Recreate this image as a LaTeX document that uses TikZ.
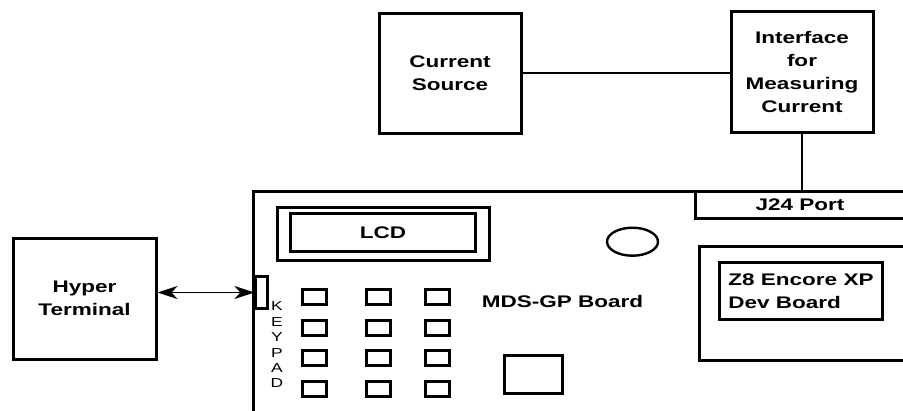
\documentclass[tikz,border=0pt]{standalone}
\usepackage{fontspec}
\setmainfont{Liberation Sans}[FakeStretch=1.34]
\usetikzlibrary{positioning,shapes.geometric,arrows.meta}
\tikzset{
  box/.style={draw,line width=3pt,inner sep=0pt,align=center,
    font=\fontsize{16.8}{23}\selectfont\bfseries},
  key/.style={draw,line width=3pt,inner sep=0pt,minimum width=24,minimum height=15},
  wire/.style={line width=1.8pt},
  lbl/.style={font=\fontsize{16.8}{23}\selectfont\bfseries,align=center},
  bothtips/.style={{Stealth[length=20pt,width=13pt,inset=6pt]}-{Stealth[length=20pt,width=13pt,inset=6pt]}}
}

\begin{document}
\begin{tikzpicture}[x=1pt,y=-1pt]
\useasboundingbox (0,0) rectangle (903,410);
\clip (0,0) rectangle (903,410);
% outside units
\node[box,minimum width=142,minimum height=120] (src) at (450,73) {Current\\Source};
\node[box,minimum width=142,minimum height=121] (iface) at (802,71.5) {Interface\\for\\Measuring\\Current};
\node[box,minimum width=143,minimum height=121] (hyper) at (84.5,298.5) {Hyper\\Terminal};
% the board
\node[box,minimum width=662,minimum height=234] (board) at (584,308) {};
\node[box,minimum width=212,minimum height=53] (lcdo) at (383,233.5) {};
\node[box,minimum width=185,minimum height=38] (lcd) at (383,232.5) {LCD};
\node[box,minimum width=210,minimum height=27] (j24) at (800,205) {J24 Port};
\node[box,minimum width=206,minimum height=114] (z8o) at (802,303) {};
\node[box,minimum width=163,minimum height=57,align=left] (z8) at (801,291) {Z8 Encore XP\\Dev Board};
\node[draw,ellipse,line width=2.4pt,inner sep=0pt,minimum width=51,minimum height=28] (knob) at (632.5,241.7) {};
\node[draw,line width=2.6pt,inner sep=0pt,minimum width=58,minimum height=38] (chip) at (533.5,374.5) {};
\node[lbl] (mds) at (562.5,301.5) {MDS-GP Board};
% keypad
\node[draw,line width=2.2pt,inner sep=0pt,minimum width=12,minimum height=32] (kport) at (261.5,292.5) {};
\node[align=center,inner sep=0pt,font=\fontsize{13}{15.4}\selectfont] (kname) at (277,345) {K\\E\\Y\\P\\A\\D};
\foreach \cx [count=\i] in {314.5,378,437}
  \foreach \cy [count=\j] in {297,327.5,358,388.5}
    \node[key] (key\i\j) at (\cx,\cy) {};
% connections
\draw[wire] (src.east) -- (src.east -| iface.west);
\draw[wire] (iface.south) -- (iface.south |- j24.north);
\draw[wire,bothtips] (hyper.east |- kport.west) -- (kport.west);
\end{tikzpicture}
\end{document}
